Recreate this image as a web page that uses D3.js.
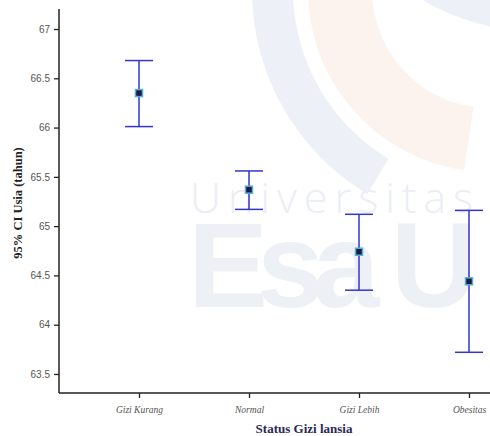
<!DOCTYPE html>
<html><head><meta charset="utf-8">
<script src="https://cdn.jsdelivr.net/npm/d3@7"></script>
<style>body{margin:0;background:#fff}svg{display:block}</style>
</head><body>
<svg id="c" width="490" height="436"></svg>
<script>
const categories = ["Gizi Kurang", "Normal", "Gizi Lebih", "Obesitas"];
const means = [66.35, 65.37, 64.74, 64.44];
const lowers = [66.01, 65.17, 64.35, 63.72];
const uppers = [66.68, 65.56, 65.12, 65.16];
const yTicks = [63.5, 64, 64.5, 65, 65.5, 66, 66.5, 67];
const yTitle = "95% CI Usia (tahun)";
const xTitle = "Status Gizi lansia";

const svg = d3.select("#c");
const W = 490, H = 436;

// faint watermark
const wm = svg.append("g");
const C = [490, -10];
const arc = d3.arc();
wm.append("path").attr("transform", `translate(${C})`)
  .attr("d", arc({innerRadius: 197, outerRadius: 238, startAngle: -2.6, endAngle: -1.2}))
  .attr("fill", "#edf0f6");
wm.append("path").attr("transform", `translate(${C})`)
  .attr("d", arc({innerRadius: 118, outerRadius: 182, startAngle: -3.0, endAngle: -1.2}))
  .attr("fill", "#fdf3ee");
wm.append("circle").attr("cx", 540).attr("cy", -200).attr("r", 232).attr("fill", "#edf0f6");
wm.append("text").attr("x", 190).attr("y", 213).attr("font-family", "Open Sans, DejaVu Sans, sans-serif")
  .attr("font-weight", 300).attr("font-size", 43).attr("letter-spacing", 7).attr("fill", "#ebeef4").text("Universitas");
wm.append("text").attr("x", 188).attr("y", 307).attr("font-family", "Liberation Sans, Arial, sans-serif")
  .attr("font-weight", 700).attr("font-size", 120).attr("letter-spacing", -11).attr("fill", "#edf0f5").text("Esa U");

const x0 = 59, yBase = 393, yTop = 9;
const y = d3.scaleLinear().domain([63.307, 67.203]).range([yBase, yTop]);
const x = d3.scalePoint().domain(categories).range([139, 469]);

// axes
const yAxis = svg.append("g").attr("transform", `translate(${x0},0)`)
  .call(d3.axisLeft(y).tickValues(yTicks).tickSize(5).tickPadding(4).tickFormat(d3.format("")));
yAxis.select(".domain").attr("stroke", "#222").attr("stroke-width", 1.5).attr("d", `M0,${yTop}V${yBase}`);
yAxis.selectAll(".tick line").attr("stroke", "#222").attr("stroke-width", 1.3);
yAxis.selectAll(".tick text").attr("font-family", "Liberation Sans, Arial, sans-serif").attr("font-size", 10).attr("fill", "#555");

const xAxis = svg.append("g").attr("transform", `translate(0,${yBase})`)
  .call(d3.axisBottom(x).tickSize(5).tickPadding(8));
xAxis.select(".domain").attr("stroke", "#222").attr("stroke-width", 1.5).attr("d", `M${x0},0H${W}`);
xAxis.selectAll(".tick line").attr("stroke", "#222").attr("stroke-width", 1.3);
xAxis.selectAll(".tick text").attr("font-family", "Liberation Serif, Times New Roman, serif").attr("font-style", "italic")
  .attr("font-size", 9.5).attr("fill", "#555");

// titles
svg.append("text").attr("transform", "translate(22,203) rotate(-90)").attr("text-anchor", "middle")
  .attr("font-family", "Liberation Serif, Times New Roman, serif").attr("font-weight", "bold").attr("font-size", 12.5)
  .attr("fill", "#222").text(yTitle);
svg.append("text").attr("x", 304).attr("y", 433).attr("text-anchor", "middle")
  .attr("font-family", "Liberation Serif, Times New Roman, serif").attr("font-weight", "bold").attr("font-size", 13)
  .attr("fill", "#2a2a55").text(xTitle);

// error bars
const data = categories.map((c, i) => ({c, m: means[i], lo: lowers[i], hi: uppers[i]}));
const g = svg.append("g");
const col = "#3535d0";
g.selectAll("line.v").data(data).join("line").attr("x1", d => x(d.c)).attr("x2", d => x(d.c))
  .attr("y1", d => y(d.hi)).attr("y2", d => y(d.lo)).attr("stroke", col).attr("stroke-width", 1.5);
g.selectAll("line.t").data(data).join("line").attr("x1", d => x(d.c) - 14).attr("x2", d => x(d.c) + 14)
  .attr("y1", d => y(d.hi)).attr("y2", d => y(d.hi)).attr("stroke", col).attr("stroke-width", 1.5);
g.selectAll("line.b").data(data).join("line").attr("x1", d => x(d.c) - 14).attr("x2", d => x(d.c) + 14)
  .attr("y1", d => y(d.lo)).attr("y2", d => y(d.lo)).attr("stroke", col).attr("stroke-width", 1.5);
g.selectAll("rect").data(data).join("rect").attr("x", d => x(d.c) - 3.5).attr("y", d => y(d.m) - 3.5)
  .attr("width", 7).attr("height", 7).attr("fill", "#1b1b48").attr("stroke", "#5aaed0").attr("stroke-width", 1.5);
</script>
</body></html>
